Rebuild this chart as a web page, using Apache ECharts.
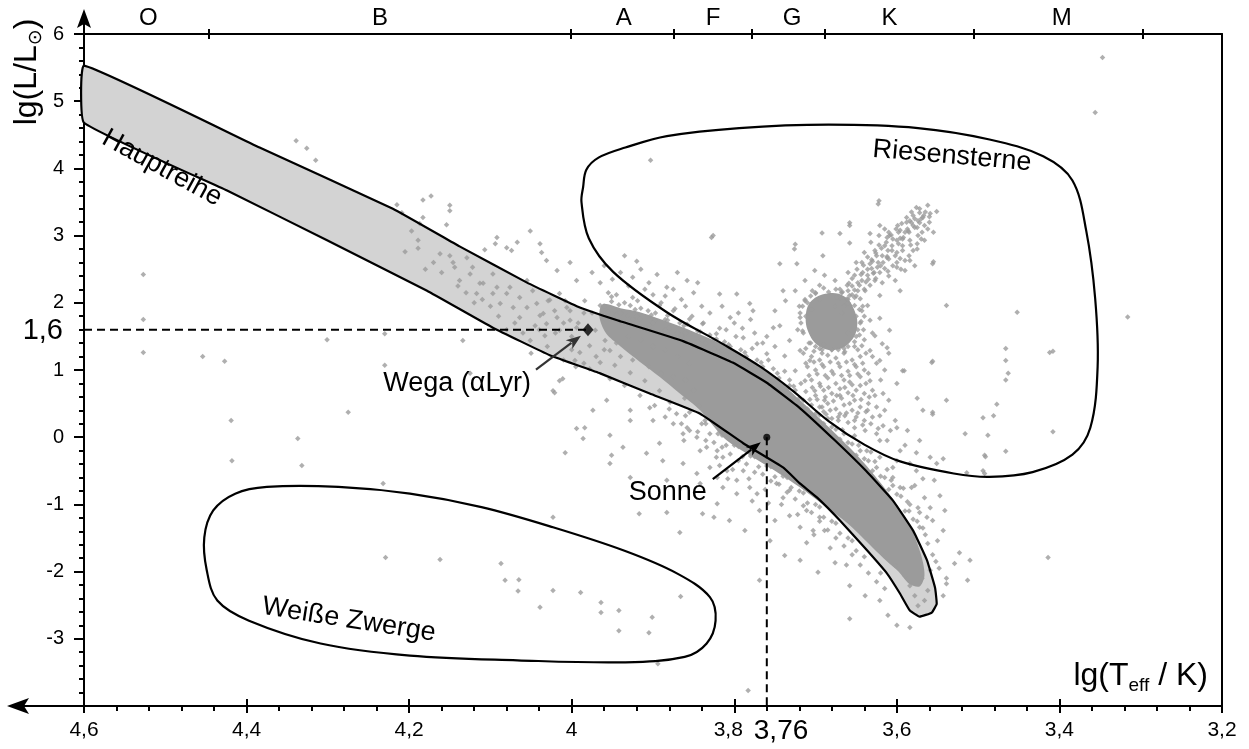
<!DOCTYPE html>
<html><head><meta charset="utf-8">
<script src="https://cdn.jsdelivr.net/npm/echarts@6/dist/echarts.min.js"></script>
<style>html,body{margin:0;padding:0;background:#fff}#c{width:1249px;height:749px}</style>
</head><body><div id="c"></div>
<script>
// ---------- data ----------
const spectralClasses = ['O','B','A','F','G','K','M'];
const spectralLabelPos = [4.521,4.236,3.936,3.826,3.729,3.609,3.397];
const spectralBounds = [4.446,4.001,3.874,3.778,3.689,3.505,3.297];

const wega = [3.98, 1.6];
const sun = [3.76, 0];

const mainSeqUpper = [[4.60,5.53],[4.384,4.31],[4.220,3.40],[4.138,2.84],[4.055,2.30],[3.990,1.93],[3.944,1.74],[3.863,1.43],[3.802,1.11],[3.760,0.81],[3.719,0.43],[3.676,-0.05],[3.638,-0.50],[3.605,-0.94],[3.580,-1.39],[3.563,-1.83],[3.553,-2.24],[3.551,-2.48],[3.557,-2.61],[3.572,-2.67]];
const mainSeqLower = [[3.584,-2.58],[3.596,-2.33],[3.612,-2.03],[3.637,-1.68],[3.670,-1.24],[3.698,-0.90],[3.719,-0.69],[3.740,-0.45],[3.789,-0.09],[3.842,0.35],[3.904,0.65],[3.965,0.95],[4.027,1.22],[4.097,1.63],[4.178,2.18],[4.301,2.93],[4.424,3.67],[4.60,4.68]];

const giantRegion = [[3.988,3.50],[3.986,3.72],[3.982,3.98],[3.967,4.16],[3.934,4.31],[3.883,4.48],[3.794,4.60],[3.684,4.65],[3.574,4.60],[3.486,4.43],[3.420,4.18],[3.384,3.82],[3.367,3.07],[3.356,2.06],[3.353,1.05],[3.362,0.14],[3.384,-0.26],[3.433,-0.52],[3.486,-0.59],[3.530,-0.54],[3.596,-0.36],[3.640,-0.11],[3.684,0.24],[3.728,0.69],[3.768,1.05],[3.816,1.40],[3.883,1.86],[3.949,2.46],[3.979,2.96]];

const whiteDwarfRegion = [[4.414,-0.84],[4.375,-0.74],[4.287,-0.74],[4.199,-0.84],[4.111,-1.04],[4.023,-1.34],[3.935,-1.69],[3.870,-2.03],[3.830,-2.38],[3.823,-2.73],[3.834,-3.07],[3.861,-3.27],[3.935,-3.35],[4.067,-3.32],[4.199,-3.25],[4.309,-3.07],[4.397,-2.73],[4.436,-2.43],[4.449,-1.98],[4.452,-1.49],[4.441,-1.09]];

// outlines of the areas where the stars are so dense that they merge
const denseCore = [[3.962,1.98],[3.940,1.92],[3.916,1.86],[3.867,1.65],[3.818,1.40],[3.781,1.14],[3.750,0.89],[3.719,0.55],[3.682,0.13],[3.645,-0.32],[3.611,-0.82],[3.586,-1.27],[3.571,-1.72],[3.566,-2.05],[3.572,-2.22],[3.585,-2.18],[3.598,-2.00],[3.612,-1.85],[3.630,-1.64],[3.658,-1.31],[3.689,-1.02],[3.719,-0.75],[3.750,-0.50],[3.781,-0.27],[3.812,-0.02],[3.842,0.40],[3.867,0.65],[3.892,0.90],[3.916,1.12],[3.941,1.36],[3.958,1.55],[3.966,1.80]];
const redClump = [[3.705,2.03],[3.685,2.14],[3.664,2.09],[3.652,1.88],[3.649,1.63],[3.658,1.41],[3.675,1.30],[3.695,1.35],[3.708,1.54],[3.712,1.81]];

const starsOutliers = [[3.347,5.65],[3.356,4.83],[4.339,4.41],[4.326,4.30],[4.315,4.12],[4.527,2.42],[4.527,1.75],[4.527,1.26],[4.454,1.20],[4.427,1.13],[4.419,0.25],[4.418,-0.35],[4.337,-0.02],[4.332,-0.42],[4.301,1.45],[4.230,1.54],[4.230,1.07],[4.275,0.37],[4.134,1.44],[3.903,4.12],[3.828,2.97],[3.412,1.26],[3.316,1.79],[4.232,-0.69],[4.023,-1.19],[4.229,-1.79],[4.162,-1.82],[4.087,-1.88],[4.082,-2.13],[4.065,-2.12],[4.066,-2.29],[4.023,-2.28],[3.989,-2.31],[4.039,-2.53],[3.964,-2.46],[3.964,-2.61],[3.942,-2.58],[3.901,-2.68],[3.942,-2.88],[3.905,-2.91],[3.866,-2.37],[3.867,-1.42],[3.917,-1.14],[3.883,-1.12],[3.894,-3.37],[3.839,-1.14],[3.825,-1.19],[3.821,-0.99],[3.783,-3.77],[3.658,-2.70],[3.600,-2.80],[3.584,-2.83],[3.611,-2.65],
[3.516,0.05],[3.488,0.03],[3.492,-0.27],[3.494,-0.50],[3.514,-0.53],[3.543,-1.39],[3.523,-1.72],[3.510,-1.83],[3.529,-1.88],[3.539,-2.10],[3.539,-2.18],[3.513,-2.13],[3.543,-2.36],[3.414,-1.79],
[3.452,1.86],[3.466,1.32],[3.466,1.14],[3.463,0.95],[3.466,0.85],[3.408,1.28],[3.408,0.08],[3.477,0.49],[3.481,0.32],[3.494,0.29],[3.466,-0.21],[3.491,-0.29],[3.492,-0.54],[3.539,1.96],[3.555,2.61],[3.556,1.13],[3.591,0.99],[3.618,1.39],[3.539,0.55],[3.556,0.34],[3.622,3.52],[3.658,3.19],[3.692,3.04],[3.725,2.87]];

const starsUpperFringe = [[4.215,3.46],[4.209,3.34],[4.183,3.53],[4.173,3.59],[4.150,3.45],[4.150,3.37],[4.154,3.16],[4.183,3.27],[4.187,3.18],[4.197,3.07],[4.189,2.93],[4.205,2.76],[4.189,2.81],[4.162,2.73],[4.146,2.60],[4.144,2.53],[4.129,2.67],[4.122,2.53],[4.107,2.79],[4.092,2.97],[4.094,2.88],[4.080,2.82],[4.067,2.90],[4.074,2.78],[4.051,3.07],[4.039,2.88],[4.037,2.75],[4.031,2.63],[4.018,2.48],[4.002,2.60],[3.994,2.33],[4.138,2.33],[4.125,2.43],[4.113,2.29],[4.097,2.43],[4.092,2.23],[4.080,2.14],[4.076,2.23],[4.064,2.08],[4.055,2.33],[4.048,2.18],[4.043,1.99],[4.055,1.93],[4.064,1.78],[4.035,1.84],[4.027,2.04],[4.015,2.14],[4.006,1.93],[4.018,1.78],[4.031,1.69],[4.015,1.59],[4.002,1.74],[3.994,1.63],[4.097,2.14],[4.117,2.14],[4.109,2.29],[4.088,1.99],[4.072,1.93],[4.015,0.84],[4.023,0.69],[4.125,0.95],[4.150,2.70],
[3.950,2.35],[3.940,2.45],[3.925,2.38],[3.915,2.50],[3.905,2.30],[3.895,2.42],[3.885,2.10],[3.875,2.20],[3.865,2.05],[3.850,2.15],[3.840,1.95],[3.830,1.85],[3.860,1.95],[3.845,2.30],[3.870,2.45],[3.900,2.12],[3.920,2.62],[3.935,2.70],[3.960,2.55],[3.975,2.45],[3.815,1.95],[3.800,1.70],[3.790,1.62],[3.810,1.60],[3.795,1.85],[3.775,1.55],[3.765,1.40],[3.780,1.75],[3.760,1.50],[3.750,1.35]];

const starsWega = [[3.984,2.03],[3.975,1.85],[3.965,1.96],[3.959,1.76],[3.951,2.09],[3.947,1.88],[3.938,1.70],[3.928,1.96],[3.931,1.81],[3.919,2.03],[3.916,1.76],[3.906,1.88],[3.898,1.74],[3.892,1.96],[3.882,1.81],[3.873,1.91],[3.867,1.70],[3.855,1.76],[3.971,1.59],[3.959,1.44],[3.996,1.44],[3.990,1.26],[3.978,1.36],[3.953,1.29],[4.002,1.88],[4.008,2.03],[4.021,1.88],[4.029,2.03],[4.039,1.81],[4.045,1.66],[4.033,1.51],[4.051,1.44],
[3.947,1.07],[3.928,0.96],[3.935,0.77],[3.910,0.84],[3.916,0.62],[3.892,0.69],[3.879,0.52],[3.898,0.47],[3.861,0.58],[3.855,0.37],[3.843,0.47],[3.836,0.25],[3.965,1.11],[3.978,1.02],[3.953,0.87],[3.996,1.14],
[4.000,1.50],[3.992,1.70],[3.985,1.85],[4.010,1.70],[4.020,1.55],[4.040,1.60],[4.060,1.55],[4.070,1.70],[4.080,1.60],[4.090,1.80],[4.100,1.95],[4.110,2.05],[4.120,2.00],[4.130,2.15],[4.140,2.25],[4.160,2.45],[4.170,2.60],[4.180,2.50],[4.000,1.30],[4.010,1.15],[4.030,1.35],[4.050,1.25],[3.995,1.05],[3.985,1.10],[3.970,1.20],[3.960,1.30],[3.945,1.40],[3.930,1.50],[3.915,1.45],[3.900,1.35],[3.885,1.30],[3.870,1.20],[3.855,1.10],[3.940,1.20],[3.925,1.15],[3.905,1.05],[3.890,0.95],[3.875,0.90],[3.860,0.85],[3.850,0.70]];

const starsHaloAbove = [[3.960,1.95],[3.955,2.15],[3.965,2.30],[3.940,1.85],[3.935,2.00],[3.945,2.12],[3.930,2.25],[3.920,1.80],[3.915,1.92],[3.925,2.08],[3.910,2.20],[3.900,1.70],[3.897,1.85],[3.905,1.62],[3.890,2.00],[3.880,1.62],[3.885,1.75],[3.875,1.88],[3.870,1.55],[3.860,1.55],[3.858,1.68],[3.852,1.80],[3.865,1.50],[3.840,1.45],[3.845,1.58],[3.835,1.40],[3.830,1.52],[3.838,1.70],[3.820,1.33],[3.825,1.45],[3.815,1.30],[3.812,1.42],[3.818,1.62],[3.800,1.22],[3.805,1.35],[3.795,1.18],[3.792,1.30],[3.798,1.50],[3.780,1.08],[3.785,1.20],[3.775,1.02],[3.772,1.15],[3.778,1.32],[3.760,0.93],[3.765,1.05],[3.755,0.90],[3.752,1.02],[3.758,1.15],[3.740,0.75],[3.745,0.88],[3.735,0.72],[3.732,0.85],[3.738,0.98],[3.720,0.58],[3.725,0.70],[3.715,0.55],[3.712,0.68],[3.718,0.80],[3.700,0.35],[3.705,0.48],[3.695,0.33],[3.692,0.45],[3.680,0.15],[3.685,0.28],[3.675,0.12],[3.672,0.25],[3.660,-0.08],[3.665,0.05],[3.655,-0.10],[3.652,0.02],[3.640,-0.32],[3.645,-0.20],[3.635,-0.35],[3.632,-0.22],[3.620,-0.58],[3.625,-0.45],[3.615,-0.60],[3.612,-0.48],[3.600,-0.85],[3.605,-0.72],[3.595,-0.88],[3.592,-0.76],[3.580,-1.22],[3.585,-1.10],[3.575,-1.25],[3.572,-1.12],[3.565,-1.45],[3.562,-1.58],[3.568,-1.35],[3.552,-1.85],[3.548,-1.95],[3.556,-1.75],
[3.955,1.87],[3.951,2.02],[3.945,1.82],[3.942,1.97],[3.925,1.75],[3.922,1.90],[3.905,1.67],[3.902,1.82],[3.885,1.59],[3.882,1.74],[3.865,1.52],[3.862,1.66],[3.845,1.42],[3.842,1.57],[3.825,1.31],[3.822,1.46],[3.810,1.23],[3.807,1.38],[3.790,1.11],[3.787,1.26],[3.770,0.96],[3.767,1.11],[3.750,0.80],[3.747,0.95],[3.730,0.62],[3.727,0.76],[3.710,0.42],[3.707,0.56],[3.690,0.20],[3.687,0.34],[3.670,-0.03],[3.667,0.11],[3.650,-0.27],[3.647,-0.12],[3.630,-0.50],[3.627,-0.36],[3.610,-0.78],[3.607,-0.64],[3.590,-1.10],[3.587,-0.96]];

const starsHaloBelow = [[3.880,0.42],[3.885,0.30],[3.875,0.20],[3.860,0.32],[3.865,0.20],[3.855,0.10],[3.862,-0.05],[3.840,0.20],[3.845,0.08],[3.835,-0.05],[3.842,-0.20],[3.820,0.05],[3.825,-0.08],[3.815,-0.15],[3.822,-0.30],[3.818,-0.42],[3.800,-0.12],[3.805,-0.25],[3.795,-0.35],[3.802,-0.48],[3.808,-0.62],[3.780,-0.28],[3.785,-0.40],[3.775,-0.52],[3.782,-0.62],[3.778,-0.95],[3.760,-0.43],[3.765,-0.55],[3.755,-0.65],[3.762,-0.78],[3.758,-0.98],[3.740,-0.58],[3.745,-0.70],[3.735,-0.82],[3.742,-1.00],[3.720,-0.80],[3.725,-0.92],[3.715,-1.02],[3.722,-1.15],[3.700,-1.00],[3.705,-1.12],[3.695,-1.25],[3.702,-1.45],[3.680,-1.25],[3.685,-1.38],[3.675,-1.50],[3.682,-1.65],[3.660,-1.50],[3.665,-1.62],[3.655,-1.75],[3.662,-1.90],[3.640,-1.78],[3.645,-1.90],[3.635,-2.02],[3.620,-2.02],[3.625,-2.15],[3.615,-2.25],
[3.835,0.20],[3.830,0.05],[3.815,0.03],[3.810,-0.12],[3.795,-0.14],[3.790,-0.29],[3.775,-0.29],[3.770,-0.44],[3.755,-0.44],[3.750,-0.59],[3.735,-0.60],[3.730,-0.75],[3.715,-0.83],[3.710,-0.98],[3.695,-1.04],[3.690,-1.19],[3.675,-1.28],[3.670,-1.43],[3.655,-1.54],[3.650,-1.69]];

const starsBelow = [[4.008,-0.23],[3.994,0.13],[3.984,0.14],[3.986,-0.02],[3.953,0.03],[3.951,-0.27],[3.928,0.40],[3.928,0.25],[3.957,0.55],[3.974,0.40],[4.021,0.66],[4.011,0.87],[3.904,0.44],[3.900,0.25],[3.892,-0.09],[3.908,-0.24],[3.888,-0.35],[3.863,0.05],[3.858,0.14],[3.871,0.35],[3.846,0.00],[3.834,-0.15],[3.821,-0.20],[3.814,-0.30],[3.830,-0.45],[3.846,-0.54],[3.821,-0.60],[3.809,-0.50],[3.797,-0.64],[3.789,-0.50],[3.781,-0.75],[3.772,-0.84],[3.797,-0.84],[3.814,-0.75],[3.842,-0.69],[3.863,-0.39],[3.883,-0.64],[3.928,-0.60],[3.937,-0.15],[3.953,-0.39],[3.748,-0.69],[3.732,-0.79],[3.740,-0.90],[3.769,-1.09],[3.750,-1.24],[3.732,-1.17],[3.719,-1.34],[3.711,-1.57],[3.703,-1.39],[3.689,-1.39],[3.711,-1.09],[3.695,-1.19],[3.697,-2.01],[3.676,-1.87],[3.787,-1.39],[3.806,-1.24],[3.756,-1.54],[3.738,-1.76],[3.719,-1.83],[3.658,-2.21],[3.639,-2.36],[3.621,-2.43],[3.769,-2.13],
[3.578,-2.36],[3.566,-2.43],[3.574,-2.51],[3.562,-2.28],[3.584,-2.21],[3.569,-2.10],[3.590,-2.06],[3.559,-1.98],[3.602,-1.91]];

const starsGiants = [[3.883,2.23],[3.858,2.33],[3.826,3.00],[3.818,2.13],[3.797,2.13],[3.781,1.99],[3.777,1.88],[3.805,1.78],[3.839,1.69],[3.822,1.54],[3.789,1.48],[3.772,1.39],[3.760,1.24],[3.752,1.63],[3.740,2.18],[3.723,2.58],[3.726,2.80],[3.744,2.58],[3.691,2.70],[3.670,3.03],[3.658,3.15],[3.658,2.89],[3.633,3.03],[3.621,3.15],[3.612,2.97],[3.623,3.47],[3.596,3.08],[3.584,3.22],[3.575,3.12],[3.568,3.27],[3.559,3.33],[3.551,3.36],[3.575,2.88],[3.593,2.78],[3.584,2.63],[3.600,2.53],[3.612,2.67],[3.633,2.58],[3.556,2.58],[3.557,1.11],[3.593,0.99],[3.575,0.58],[3.568,0.40],[3.556,0.37],[3.617,0.65],[3.600,0.80],[3.612,1.33],
[3.664,1.96],[3.658,2.11],[3.648,2.18],[3.652,1.96],[3.643,2.33],[3.636,2.41],[3.639,2.18],[3.631,2.51],[3.623,2.60],[3.627,2.33],[3.618,2.70],[3.611,2.78],[3.615,2.51],[3.606,2.85],[3.600,2.93],[3.602,2.70],[3.596,2.96],[3.590,3.05],[3.593,2.85],[3.587,3.10],[3.582,3.19],[3.584,2.93],[3.578,3.25],[3.574,3.00],[3.572,3.19],[3.566,3.15],[3.572,3.34],[3.580,2.78],[3.590,2.63],[3.605,2.55],[3.621,2.45],[3.633,2.26],[3.645,2.06],[3.661,2.26],[3.652,2.41],[3.673,2.03],[3.668,2.15],[3.643,2.60],[3.627,2.78],[3.609,3.00],[3.599,3.15],[3.636,1.96],[3.621,2.11],[3.602,2.33],[3.590,2.48],[3.596,2.18],[3.578,2.55],[3.566,2.93],[3.562,3.10],
[3.676,1.95],[3.668,1.85],[3.660,2.00],[3.655,2.25],[3.650,2.10],[3.648,2.30],[3.642,2.45],[3.640,2.20],[3.635,2.35],[3.630,2.62],[3.628,2.45],[3.625,2.70],[3.620,2.55],[3.615,2.85],[3.610,2.65],[3.605,2.95],[3.600,2.75],[3.598,3.05],[3.593,2.95],[3.588,3.20],[3.585,3.05],[3.580,3.30],[3.578,3.12],[3.572,3.40],[3.570,3.25],[3.565,3.35],[3.560,3.20],[3.555,3.05],[3.562,3.45],[3.618,2.30],[3.610,2.40],[3.600,2.60],[3.595,2.50],[3.585,2.70],[3.575,2.80],[3.570,2.95],[3.660,2.45],[3.650,2.60],[3.640,2.75],[3.632,2.90],[3.622,3.00],[3.615,3.10],
[3.674,2.08],[3.661,2.06],[3.667,2.16],[3.652,2.19],[3.659,2.29],[3.646,2.26],[3.655,2.36],[3.638,2.31],[3.644,2.42],[3.636,2.50],[3.629,2.44],[3.641,2.56],[3.624,2.53],[3.631,2.64],[3.617,2.60],[3.626,2.74],[3.612,2.69],[3.619,2.81],[3.606,2.78],[3.613,2.90],[3.598,2.88],[3.607,3.01],[3.592,2.97],[3.601,3.10],[3.586,3.07],[3.594,3.18],[3.580,3.15],[3.588,3.27],[3.574,3.22],[3.582,3.35],[3.567,3.30],[3.576,3.42],[3.560,3.28],[3.569,3.05],[3.583,2.86],[3.596,2.66],[3.611,2.47],[3.626,2.36],[3.649,2.50],[3.636,2.68],[3.622,2.86],[3.610,3.05]];

const starsClumpArea = [[3.737,2.03],[3.750,1.88],[3.744,1.66],[3.732,1.44],[3.719,1.29],[3.738,1.21],[3.707,1.14],[3.725,0.99],[3.713,0.84],[3.732,0.77],[3.701,0.69],[3.689,0.55],[3.670,0.62],[3.652,0.55],[3.645,0.77],[3.658,0.92],[3.633,0.84],[3.627,0.62],[3.636,0.40],[3.621,0.32],[3.652,0.25],[3.664,0.32],[3.639,0.10],[3.623,0.13],[3.608,0.10],[3.602,0.25],[3.621,-0.05],[3.633,1.29],[3.621,1.14],[3.643,1.36],[3.627,1.51],[3.633,1.74],[3.643,1.88],[3.621,1.77],[3.609,1.59],[3.713,2.03],[3.719,1.85],[3.704,2.18],[3.695,2.26],[3.676,2.33],[3.689,2.41],[3.701,2.48],[3.713,2.33],[3.725,2.18],
[3.715,1.25],[3.705,1.20],[3.695,1.15],[3.685,1.22],[3.675,1.18],[3.665,1.25],[3.655,1.15],[3.645,1.20],[3.710,1.05],[3.700,1.00],[3.690,1.05],[3.680,0.98],[3.670,1.05],[3.660,0.98],[3.650,1.05],[3.640,1.00],[3.705,0.85],[3.695,0.80],[3.685,0.88],[3.675,0.80],[3.665,0.85],[3.655,0.78],[3.645,0.90],[3.635,0.95],[3.700,0.62],[3.690,0.70],[3.680,0.65],[3.670,0.72],[3.660,0.66],[3.650,0.70],[3.640,0.65],[3.630,0.70],[3.695,0.45],[3.685,0.50],[3.675,0.42],[3.665,0.48],[3.655,0.40],[3.645,0.45],[3.635,0.50],[3.625,0.45],[3.680,0.28],[3.670,0.35],[3.660,0.22],[3.650,0.30],[3.640,0.25],[3.630,0.30],[3.615,0.40],[3.610,0.55],[3.620,0.85],[3.615,1.00],[3.625,1.10],[3.630,1.20],[3.610,1.25],[3.700,1.35],[3.690,1.38],[3.640,1.45],[3.630,1.55],[3.650,1.50],
[3.712,1.10],[3.702,1.12],[3.692,1.08],[3.682,1.12],[3.672,1.10],[3.662,1.12],[3.652,1.08],[3.642,1.10],[3.708,0.92],[3.698,0.94],[3.688,0.92],[3.678,0.94],[3.668,0.92],[3.658,0.82],[3.648,0.94],[3.638,0.80],[3.704,0.74],[3.694,0.76],[3.684,0.74],[3.674,0.62],[3.664,0.74],[3.654,0.62],[3.644,0.56],[3.634,0.60],[3.698,0.56],[3.688,0.60],[3.678,0.54],[3.668,0.58],[3.658,0.50],[3.648,0.36],[3.638,0.38],[3.690,0.38],[3.682,0.40],[3.672,0.30],[3.662,0.36],[3.652,0.14],[3.642,0.18],[3.632,0.20],[3.712,1.32],[3.702,1.28],[3.692,1.30],[3.672,1.30],[3.660,1.35],[3.648,1.30],[3.638,1.25],
[3.715,1.55],[3.712,1.80],[3.710,2.00],[3.700,2.15],[3.690,2.22],[3.675,2.20],[3.660,2.05],[3.650,1.80],[3.648,1.60],[3.652,1.42],[3.665,1.32],[3.680,1.30],[3.695,1.32],[3.708,1.40],[3.718,1.70],[3.705,1.90],[3.695,2.05],[3.665,1.95],[3.660,1.55],[3.720,1.95],[3.722,1.60],[3.645,1.70],[3.642,1.95],[3.655,2.12],
[3.713,2.05],[3.700,2.14],[3.684,2.16],[3.670,2.20],[3.652,2.08],[3.646,1.90],[3.644,1.72],[3.646,1.52],[3.652,1.35],[3.664,1.27],[3.680,1.30],[3.692,1.25],[3.706,1.40],[3.716,1.58],[3.719,1.78],[3.716,1.95],[3.706,2.10],[3.660,2.18],[3.640,1.80],[3.641,1.60],
[3.584,-0.39],[3.576,-0.50],[3.568,-0.62],[3.582,-0.75],[3.566,-0.90],[3.559,-1.05],[3.574,-1.05],[3.563,-1.19],[3.556,-1.24],[3.572,-1.34],[3.600,-0.35],[3.596,-0.20],[3.612,-0.05],[3.625,0.05],[3.637,-0.20],[3.605,-0.60],[3.596,-0.75],[3.584,-1.00],[3.605,-0.45],[3.621,-0.30],[3.576,-0.23],[3.559,-0.30],[3.551,-0.39],[3.543,-0.32],[3.572,-0.05],[3.587,0.10],[3.600,0.14],[3.617,0.17],[3.590,-0.12],[3.578,-0.72],[3.554,-0.64],[3.547,-0.87],[3.550,-1.54],[3.541,-1.09]];

// ---------- chart ----------
const FONT = '"Liberation Sans", Arial, Helvetica, sans-serif';
const BLACK = '#000';
const DOT = '#9b9b9b';
const stars = [].concat(starsOutliers, starsUpperFringe, starsWega, starsHaloAbove, starsHaloBelow, starsBelow, starsGiants, starsClumpArea);
const mainSeq = mainSeqUpper.concat(mainSeqLower);

function fmt(v) { return (Math.round(v * 100) / 100).toString().replace('.', ','); }

function shapeSeries(pts, style, z, smooth) {
  return {
    type: 'custom', coordinateSystem: 'cartesian2d', xAxisIndex: 0, yAxisIndex: 0,
    silent: true, z: z, data: [pts[0]],
    renderItem: function (params, api) {
      return { type: 'polygon', shape: { points: pts.map(p => api.coord(p)), smooth: smooth || 0 }, style: style };
    }
  };
}

const axisLineStyle = { color: BLACK, width: 2 };
const xBase = { type: 'value', inverse: true, min: 3.2, max: 4.6, splitLine: { show: false } };

const option = {
  animation: false,
  textStyle: { fontFamily: FONT },
  grid: { left: 84, right: 27, top: 34, bottom: 43 },
  xAxis: [
    Object.assign({}, xBase, {
      position: 'bottom', interval: 0.2,
      axisLine: { show: true, onZero: false, lineStyle: axisLineStyle },
      axisTick: { show: true, inside: false, length: 7, lineStyle: axisLineStyle },
      minorTick: { show: true, splitNumber: 5, length: 5, lineStyle: axisLineStyle },
      minorSplitLine: { show: false },
      axisLabel: { color: BLACK, fontSize: 21, fontFamily: FONT, margin: 14,
        formatter: v => (Math.abs(v - 3.8) < 1e-6 ? '{s|3,8}' : fmt(v)),
        rich: { s: { fontSize: 21, fontFamily: FONT, color: BLACK, padding: [0, 12, 0, 0] } } }
    }),
    Object.assign({}, xBase, {
      position: 'bottom', interval: 0.2,
      axisLine: { show: false, onZero: false },
      axisTick: { show: true, inside: true, length: 7, lineStyle: axisLineStyle },
      axisLabel: { show: false }
    }),
    Object.assign({}, xBase, {
      position: 'top',
      axisLine: { show: true, onZero: false, lineStyle: axisLineStyle },
      axisTick: { show: true, inside: true, length: 5, customValues: spectralBounds, lineStyle: axisLineStyle },
      axisLabel: { show: true, customValues: spectralLabelPos, color: BLACK, fontSize: 24, fontFamily: FONT, margin: 4,
        formatter: v => { const i = spectralLabelPos.findIndex(p => Math.abs(p - v) < 1e-6); return i >= 0 ? spectralClasses[i] : ''; } }
    }),
    Object.assign({}, xBase, {
      position: 'top',
      axisLine: { show: false, onZero: false },
      axisTick: { show: true, inside: false, length: 5, customValues: spectralBounds, lineStyle: axisLineStyle },
      axisLabel: { show: false }
    })
  ],
  yAxis: [
    {
      type: 'value', position: 'left', min: -4, max: 6, interval: 1,
      axisLine: { show: true, onZero: false, lineStyle: axisLineStyle },
      axisTick: { show: true, inside: false, length: 10, lineStyle: axisLineStyle },
      minorTick: { show: true, splitNumber: 5, length: 5, lineStyle: axisLineStyle },
      axisLabel: { color: BLACK, fontSize: 20, fontFamily: FONT, margin: 20,
        formatter: v => (Math.round(v) === -4 ? '' : String(Math.round(v))) },
      splitLine: { show: false }, minorSplitLine: { show: false }
    },
    {
      type: 'value', position: 'right', min: -4, max: 6,
      axisLine: { show: true, onZero: false, lineStyle: axisLineStyle },
      axisTick: { show: false }, axisLabel: { show: false }, splitLine: { show: false }
    }
  ],
  series: [
    shapeSeries(mainSeq, { fill: '#d3d3d3', stroke: null }, 1, 0.1),
    shapeSeries(denseCore, { fill: DOT, stroke: null }, 2, 0.3),
    shapeSeries(redClump, { fill: DOT, stroke: null }, 2, 0.4),
    { type: 'scatter', data: stars, symbol: 'diamond', symbolSize: 5.5, itemStyle: { color: DOT }, z: 3, silent: true },
    shapeSeries(mainSeq, { fill: null, stroke: BLACK, lineWidth: 2.2, lineJoin: 'round' }, 4, 0.1),
    shapeSeries(giantRegion, { fill: null, stroke: BLACK, lineWidth: 2.2 }, 4, 0.35),
    shapeSeries(whiteDwarfRegion, { fill: null, stroke: BLACK, lineWidth: 2.2 }, 4, 0.35),
    { type: 'line', data: [[4.6, wega[1]], wega], symbol: 'none', lineStyle: { color: BLACK, width: 2, type: [8, 5] }, z: 5, silent: true },
    { type: 'line', data: [sun, [sun[0], -4]], symbol: 'none', lineStyle: { color: BLACK, width: 2, type: [8, 5] }, z: 5, silent: true },
    { type: 'scatter', data: [wega], symbol: 'diamond', symbolSize: [11, 13], itemStyle: { color: BLACK }, z: 6, silent: true },
    { type: 'scatter', data: [sun], symbol: 'circle', symbolSize: 7, itemStyle: { color: BLACK }, z: 6, silent: true }
  ]
};

const chart = echarts.init(document.getElementById('c'), null, { renderer: 'canvas' });
chart.setOption(option);

const pW = chart.convertToPixel({ xAxisIndex: 0, yAxisIndex: 0 }, wega);
const pS = chart.convertToPixel({ xAxisIndex: 0, yAxisIndex: 0 }, sun);

function arrow(x1, y1, x2, y2, color) {
  const dx = x2 - x1, dy = y2 - y1, len = Math.hypot(dx, dy), ux = dx / len, uy = dy / len;
  const hl = 15, hw = 5.5;
  const bx = x2 - ux * hl, by = y2 - uy * hl;
  return [
    { type: 'line', shape: { x1: x1, y1: y1, x2: bx + ux * 3, y2: by + uy * 3 }, style: { stroke: color, lineWidth: 2.2 }, z: 100 },
    { type: 'polygon', shape: { points: [[x2, y2], [bx - uy * hw, by + ux * hw], [bx + ux * 4, by + uy * 4], [bx + uy * hw, by - ux * hw]] }, style: { fill: color }, z: 100 }
  ];
}
function txt(x, y, text, size, rot, align, extra) {
  return { type: 'text', x: x, y: y, rotation: rot || 0, z: 100,
    style: Object.assign({ text: text, fill: BLACK, fontSize: size, fontFamily: FONT, align: align || 'center', verticalAlign: 'middle' }, extra || {}) };
}

const graphics = [
  { type: 'line', shape: { x1: 84, y1: 35, x2: 84, y2: 20 }, style: { stroke: BLACK, lineWidth: 2 }, z: 100 },
  { type: 'polygon', shape: { points: [[84, 9], [77, 28], [84, 24], [91, 28]] }, style: { fill: BLACK }, z: 100 },
  { type: 'line', shape: { x1: 84, y1: 706, x2: 22, y2: 706 }, style: { stroke: BLACK, lineWidth: 2 }, z: 100 },
  { type: 'polygon', shape: { points: [[7, 706], [29, 698], [24, 706], [29, 714]] }, style: { fill: BLACK }, z: 100 },
  txt(27, 72, 'lg(L/L{s|⊙})', 32, Math.PI / 2, 'center', { lineHeight: 38, rich: { s: { fontSize: 19, lineHeight: 16, verticalAlign: 'bottom', fontFamily: '"DejaVu Sans", sans-serif' } } }),
  txt(1208, 676, 'lg(T{s|eff} / K)', 32, 0, 'right', { lineHeight: 38, rich: { s: { fontSize: 19, lineHeight: 16, verticalAlign: 'bottom' } } }),
  txt(63, pW[1] + 1, '1,6', 29, 0, 'right'),
  txt(pS[0] - 13, 731, '3,76', 28, 0, 'left'),
  txt(162, 168, 'Hauptreihe', 27, -0.5),
  txt(952, 156, 'Riesensterne', 27, -0.085),
  txt(349, 620, 'Weiße Zwerge', 27, -0.155),
  txt(pW[0] - 57, pW[1] + 54, 'Wega (αLyr)', 27, 0, 'right'),
  txt(pS[0] - 99, pS[1] + 55, 'Sonne', 27, 0, 'center')
].concat(
  arrow(pW[0] - 52, pW[1] + 40, pW[0] - 7, pW[1] + 6, '#333'),
  arrow(pS[0] - 54, pS[1] + 42, pS[0] - 6, pS[1] + 5, BLACK)
);

chart.setOption({ graphic: graphics });
</script>
</body></html>
